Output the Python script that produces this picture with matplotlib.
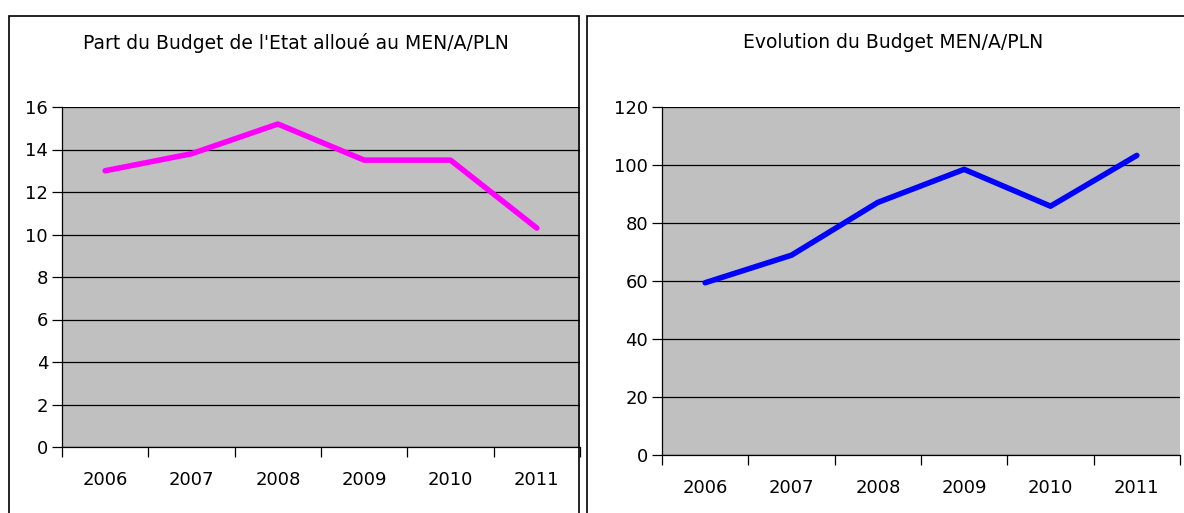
import matplotlib
matplotlib.use("Agg")
import matplotlib.pyplot as plt
from matplotlib.patches import Rectangle

# données
annees = ["2006", "2007", "2008", "2009", "2010", "2011"]
part_budget = [13.0, 13.8, 15.2, 13.5, 13.5, 10.3]
budget_men = [59.4, 68.9, 87.1, 98.5, 85.8, 103.3]

plt.rcParams['font.family'] = ['DejaVu Sans']

fig = plt.figure(figsize=(11.84, 5.13), dpi=100)

W, H = 1184, 513


def fx(px):
    return px / W


def fy(py):
    return 1 - py / H


# cadres des deux graphiques
fig.patches.append(Rectangle((fx(9), fy(520)), fx(579 - 9), (520 - 16) / H,
                             transform=fig.transFigure, fill=False,
                             edgecolor='black', linewidth=1.2))
fig.patches.append(Rectangle((fx(587), fy(520)), fx(1200 - 587), (520 - 16) / H,
                             transform=fig.transFigure, fill=False,
                             edgecolor='black', linewidth=1.2))


def trace(ax, valeurs, couleur, ymax, pas, titre, titre_x):
    x = [i + 0.5 for i in range(len(annees))]
    ax.set_facecolor('#c0c0c0')
    ax.plot(x, valeurs, color=couleur, linewidth=4, solid_capstyle='round',
            solid_joinstyle='round', zorder=3)
    ax.set_xlim(0, len(annees))
    ax.set_ylim(0, ymax)
    ax.set_yticks(range(0, ymax + 1, pas))
    ax.yaxis.grid(True, color='black', linewidth=0.9)
    ax.set_axisbelow(True)
    ax.set_xticks(range(len(annees) + 1))
    ax.set_xticklabels([])
    ax.set_xticks(x, minor=True)
    ax.set_xticklabels(annees, minor=True)
    ax.tick_params(axis='x', which='major', length=7, width=0.9, direction='out')
    ax.tick_params(axis='x', which='minor', length=0, pad=17, labelsize=13)
    ax.tick_params(axis='y', length=7, width=0.9, direction='out', labelsize=13, pad=3)
    for s in ['top', 'right']:
        ax.spines[s].set_visible(False)
    for s in ['left', 'bottom']:
        ax.spines[s].set_linewidth(0.9)
    fig.text(titre_x, fy(43), titre, ha='center', va='center', fontsize=13.5)


ax1 = fig.add_axes([fx(62), fy(447), fx(580 - 62), (447 - 107) / H])
trace(ax1, part_budget, '#ff00ff', 16, 2,
      "Part du Budget de l'Etat alloué au MEN/A/PLN", fx(296))

ax2 = fig.add_axes([fx(662), fy(455), fx(1180 - 662), (455 - 107) / H])
trace(ax2, budget_men, '#0000ff', 120, 20,
      "Evolution du Budget MEN/A/PLN", fx(893))

fig.savefig("out.png", dpi=100)
